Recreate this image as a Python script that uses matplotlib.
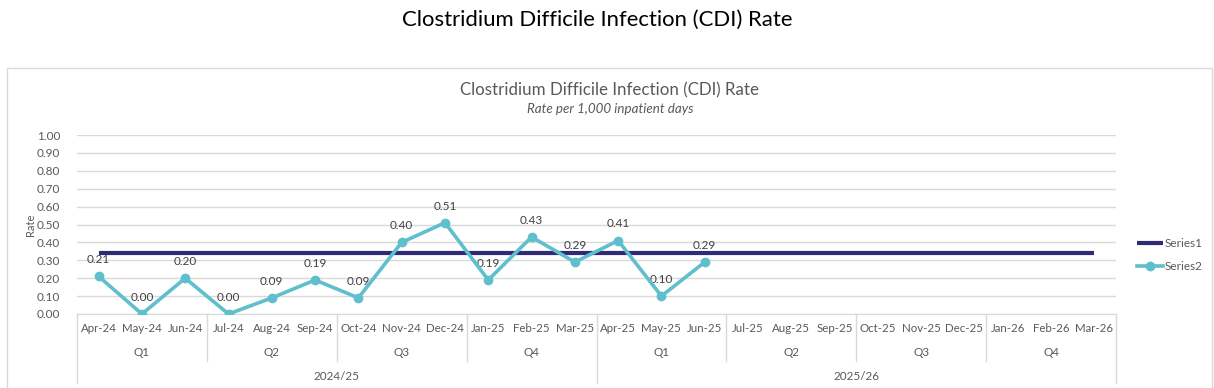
import matplotlib
matplotlib.use("Agg")
import matplotlib.pyplot as plt
import numpy as np
from matplotlib.patches import Rectangle
from matplotlib.lines import Line2D

months = ["Apr-24", "May-24", "Jun-24", "Jul-24", "Aug-24", "Sep-24", "Oct-24", "Nov-24",
          "Dec-24", "Jan-25", "Feb-25", "Mar-25", "Apr-25", "May-25", "Jun-25", "Jul-25",
          "Aug-25", "Sep-25", "Oct-25", "Nov-25", "Dec-25", "Jan-26", "Feb-26", "Mar-26"]
quarters = ["Q1", "Q2", "Q3", "Q4", "Q1", "Q2", "Q3", "Q4"]
years = ["2024/25", "2025/26"]
series1 = [0.34] * 24
series2 = [0.21, 0.00, 0.20, 0.00, 0.09, 0.19, 0.09, 0.40, 0.51, 0.19, 0.43, 0.29,
           0.41, 0.10, 0.29]
yticks = [0.0, 0.1, 0.2, 0.3, 0.4, 0.5, 0.6, 0.7, 0.8, 0.9, 1.0]

W, H = 1214, 388
plt.rcParams['font.family'] = ['Lato', 'DejaVu Sans']
fig = plt.figure(figsize=(W / 100, H / 100), dpi=100)

def fx(px):
    return px / W

def fy(py):
    return 1 - py / H

# chart border
fig.patches.append(Rectangle((fx(7), fy(395)), fx(1205), fy(68) - fy(395),
                             transform=fig.transFigure, fill=False,
                             edgecolor="#d9d9d9", linewidth=1))

left, right, top, bottom = 77, 1116, 135, 314
ax = fig.add_axes([fx(left), fy(bottom), fx(right - left), fy(top) - fy(bottom)])
ax.set_xlim(-0.5, len(months) - 0.5)
ax.set_ylim(0, 1.0)
ax.set_yticks(yticks)
ax.set_yticklabels([f"{v:.2f}" for v in yticks], fontsize=8.5, color="#595959")
ax.yaxis.grid(True, color="#d9d9d9", linewidth=1)
ax.set_axisbelow(True)
for s in ["top", "right", "left"]:
    ax.spines[s].set_visible(False)
ax.spines["bottom"].set_color("#d9d9d9")
ax.tick_params(axis="y", length=0, pad=12)
ax.tick_params(axis="x", length=0, labelbottom=False)
ax.set_xticks([])

x1 = np.arange(len(series1))
x2 = np.arange(len(series2))
ax.plot(x1, series1, color="#2e2a78", linewidth=3, solid_capstyle="butt", label="Series1", zorder=3)
ax.plot(x2, series2, color="#5fbfcc", linewidth=2.6, marker="o", markersize=6,
        label="Series2", zorder=4)
for xi, v in zip(x2, series2):
    ax.annotate(f"{v:.2f}", (xi, v), xytext=(0, 12), textcoords="offset points",
                ha="center", va="center", fontsize=8.5, color="#404040")

ax.set_ylabel("Rate", fontsize=8, color="#595959", labelpad=1)

# multi-level category axis
trans = ax.get_xaxis_transform()
ph = bottom - top
def ay(py):
    return (bottom - py) / ph

for i, m in enumerate(months):
    ax.text(i, ay(329), m, transform=trans, ha="center", va="center",
            fontsize=8.3, color="#595959", clip_on=False)
for q, name in enumerate(quarters):
    ax.text(q * 3 + 1, ay(352), name, transform=trans, ha="center", va="center",
            fontsize=8.5, color="#595959", clip_on=False)
for yi, name in enumerate(years):
    ax.text(yi * 12 + 5.5, ay(376), name, transform=trans, ha="center", va="center",
            fontsize=8.5, color="#595959", clip_on=False)
for b in range(0, 25, 3):
    low = 383 if b % 12 == 0 else 361
    ax.add_line(Line2D([b - 0.5, b - 0.5], [0, ay(low)], transform=trans,
                       color="#d9d9d9", linewidth=1, clip_on=False))

# titles
fig.text(0.5 * (403 + 792) / W, fy(20), "Clostridium Difficile Infection (CDI) Rate",
         ha="center", va="center", fontsize=15.9, color="black")
fig.text(fx(610), fy(90), "Clostridium Difficile Infection (CDI) Rate",
         ha="center", va="center", fontsize=12.2, color="#595959")
fig.text(fx(610), fy(109), "Rate per 1,000 inpatient days",
         ha="center", va="center", fontsize=9.6, color="#595959", style="italic")

leg = ax.legend(loc="center left", bbox_to_anchor=(fx(1126), fy(255)),
                bbox_transform=fig.transFigure, frameon=False, fontsize=8.5,
                handlelength=2.2, handletextpad=0.2, labelspacing=1.0)
for t in leg.get_texts():
    t.set_color("#595959")

fig.savefig("out.png", dpi=100)
